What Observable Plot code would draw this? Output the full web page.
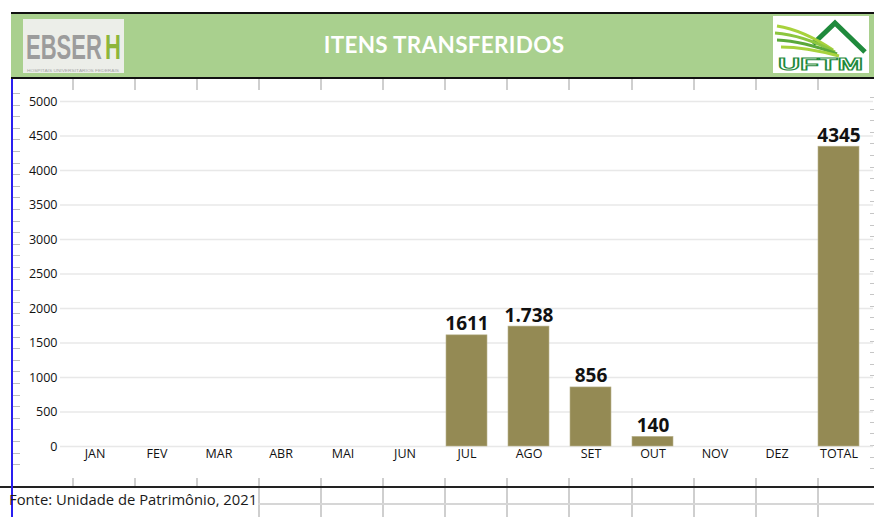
<!DOCTYPE html>
<html>
<head>
<meta charset="utf-8">
<script src="https://cdn.jsdelivr.net/npm/d3@7"></script>
<script src="https://cdn.jsdelivr.net/npm/@observablehq/plot@0.6"></script>
<style>
  html, body { margin: 0; padding: 0; background: #fff; }
  #page { position: relative; width: 874px; height: 517px; overflow: hidden; background: #fff; font-family: "Open Sans", sans-serif; }
  .abs { position: absolute; }
  #header { left: 11px; top: 12px; width: 863px; height: 63px; background: #A9D08E; border-top: 2px solid #111; border-bottom: 2px solid #111; }
  #title { left: 11px; top: 12px; width: 866px; height: 65px; line-height: 65px; text-align: center; color: #fff; font-family: Lato, "Open Sans", sans-serif; font-weight: bold; font-size: 22.5px; letter-spacing: 0.3px; }
  #chart { left: 0; top: 80px; }
  #fonte { left: 9px; top: 489px; font-size: 14.8px; color: #1a1a1a; font-family: "Open Sans", sans-serif; }
</style>
</head>
<body>
<div id="page">
  <div id="deco" class="abs" style="left:0;top:0;"></div>
  <div id="header" class="abs"></div>
  <div id="title" class="abs">ITENS TRANSFERIDOS</div>
  <svg class="abs" style="left:23px;top:19px" width="101" height="54" viewBox="0 0 101 54">
    <rect x="0" y="0" width="101" height="54" fill="#eceee9"/>
    <g transform="translate(0,40) scale(1,1.6)">
      <text x="3" y="0" font-family="Liberation Sans Narrow, Liberation Sans, sans-serif" font-weight="bold" font-size="22" fill="#9c9c9c">EBSER</text>
    </g>
    <g transform="translate(0,40) scale(1,1.6)">
      <text x="82" y="0" font-family="Liberation Sans Narrow, Liberation Sans, sans-serif" font-weight="bold" font-size="22" fill="#8DB63C">H</text>
    </g>
    <text x="4" y="52.5" font-family="Liberation Sans, sans-serif" font-size="4.2" fill="#a6a6a6" textLength="92" lengthAdjust="spacingAndGlyphs">HOSPITAIS UNIVERSITÁRIOS FEDERAIS</text>
  </svg>
  <svg class="abs" style="left:773px;top:16px" width="96" height="57" viewBox="0 0 96 57">
    <rect x="0" y="0" width="96" height="57" fill="#fff"/>
    <polyline points="40,28 62,7 92,36" fill="none" stroke="#1f8a3c" stroke-width="5"/>
    <path d="M4,10 Q30,14 60,34" fill="none" stroke="#a8d23c" stroke-width="3"/>
    <path d="M2,17 Q30,19 62,36" fill="none" stroke="#8cc63f" stroke-width="3"/>
    <path d="M4,24 Q30,25 64,38" fill="none" stroke="#5aa83a" stroke-width="3"/>
    <path d="M8,31 Q32,31 66,40" fill="none" stroke="#a8d23c" stroke-width="3"/>
    <text x="5" y="54" font-family="Liberation Sans, sans-serif" font-weight="bold" font-size="16" fill="#fff" stroke="#1f8a3c" stroke-width="1" textLength="85" lengthAdjust="spacingAndGlyphs">UFTM</text>
  </svg>
  <div id="chart" class="abs"></div>
  <div id="fonte" class="abs">Fonte: Unidade de Patrimônio, 2021</div>
</div>
<script>
// ---- data ----
const months = ["JAN", "FEV", "MAR", "ABR", "MAI", "JUN", "JUL", "AGO", "SET", "OUT", "NOV", "DEZ", "TOTAL"];
const values = [null, null, null, null, null, null, 1611, 1738, 856, 140, null, null, 4345];
const valueLabels = ["", "", "", "", "", "", "1611", "1.738", "856", "140", "", "", "4345"];
const yTicks = [0, 500, 1000, 1500, 2000, 2500, 3000, 3500, 4000, 4500, 5000];

const rows = months.map((m, i) => ({ month: m, value: values[i], label: valueLabels[i] }));
const barRows = rows.filter(d => d.value != null);

// ---- spreadsheet decoration (cell borders around the chart object) ----
const deco = document.getElementById("deco");
function line(x, y, w, h, color) {
  const d = document.createElement("div");
  d.className = "abs";
  d.style.cssText = `left:${x}px;top:${y}px;width:${w}px;height:${h}px;background:${color};`;
  deco.appendChild(d);
}
const colX = [72, 134, 196, 258, 320, 382, 444, 506, 568, 631, 693, 755, 817];
colX.forEach(x => { line(x, 77, 2, 13, "#cfcfcf"); });
colX.forEach(x => { if (x <= 196) line(x, 478, 2, 10, "#cfcfcf"); else line(x, 478, 2, 40, "#cfcfcf"); });
line(258, 503, 616, 2, "#d6d6d6");
line(0, 486, 874, 2, "#222");
line(11, 13, 2, 504, "#2a1ff0");
for (let y = 93; y < 472; y += 11.6) { line(13, Math.round(y), 7, 1, "#bdbdbd"); line(870, Math.round(y) + 4, 4, 1, "#c6c6c6"); }

// ---- chart ----
const chart = Plot.plot({
  width: 874,
  height: 400,
  marginTop: 21,
  marginBottom: 34,
  marginLeft: 60,
  marginRight: 1,
  style: { fontFamily: "Open Sans, sans-serif", fontSize: "12.5px", color: "#111", background: "transparent", overflow: "visible" },
  x: { domain: months, paddingInner: 0.34, paddingOuter: 0.17, label: null },
  y: { domain: [0, 5000], ticks: yTicks, label: null },
  marks: [
    Plot.gridY(yTicks, { stroke: "#e8e8e8", strokeOpacity: 1, strokeWidth: 1.5 }),
    Plot.axisY(yTicks, { tickSize: 0, tickPadding: 3, fontSize: 12.5, label: null, tickFormat: d => String(d) }),
    Plot.axisX({ tickSize: 0, tickPadding: 3, fontSize: 12.5, label: null }),
    Plot.barY(barRows, { x: "month", y: "value", fill: "#948A54", stroke: "#b9b38e", strokeWidth: 0.6 }),
    Plot.text(barRows, { x: "month", y: "value", text: "label", lineAnchor: "bottom", dy: -5, fontSize: 19, fontWeight: "bold", fill: "#111" })
  ]
});
document.getElementById("chart").appendChild(chart);
</script>
</body>
</html>
